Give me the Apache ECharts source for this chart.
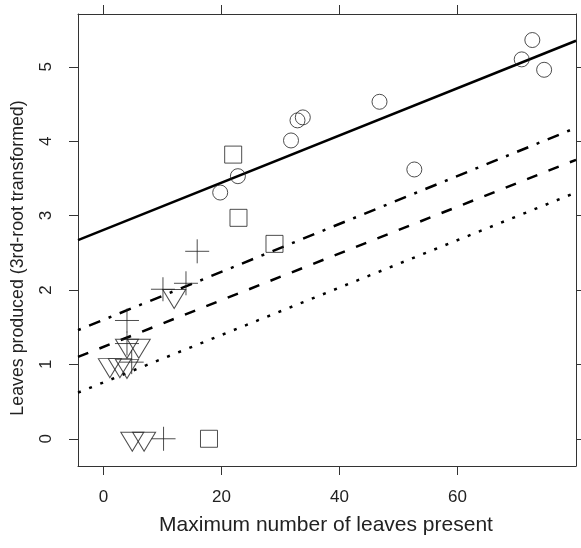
<!DOCTYPE html>
<html>
<head>
<meta charset="utf-8">
<script src="https://cdn.jsdelivr.net/npm/echarts@6/dist/echarts.min.js"></script>
<style>
html,body{margin:0;padding:0;background:#fff;}
#chart{width:581px;height:548px;}
</style>
</head>
<body>
<div id="chart"></div>
<script>
// ---- data ----
var circlesX = [19.8, 22.8, 31.8, 32.9, 33.8, 46.8, 52.7, 70.9, 72.7, 74.7];
var circlesY = [3.31, 3.53, 4.01, 4.28, 4.32, 4.53, 3.62, 5.10, 5.36, 4.96];

var squaresX = [22.0, 22.9, 29.0, 17.9];
var squaresY = [3.82, 2.97, 2.62, 0.0];

var plusX = [4.0, 4.0, 4.8, 10.1, 14.0, 15.9, 10.2];
var plusY = [1.59, 1.28, 1.03, 2.01, 2.09, 2.52, 0.0];

var triX = [12.0, 4.0, 6.0, 1.1, 2.8, 4.0, 4.9, 6.9];
var triY = [1.92, 1.25, 1.25, 0.99, 0.99, 0.98, 0.0, 0.0];

// fitted lines: endpoints [x, y]
var solidLine   = [[-4.3, 2.67], [80.1, 5.35]];
var dashDotLine = [[-4.3, 1.46], [80.1, 4.18]];
var dashedLine  = [[-4.3, 1.10], [80.1, 3.75]];
var dottedLine  = [[-4.3, 0.62], [80.1, 3.31]];

var xTicks = [0, 20, 40, 60];
var yTicks = [0, 1, 2, 3, 4, 5];
var xTitle = 'Maximum number of leaves present';
var yTitle = 'Leaves produced (3rd-root transformed)';

function zip(xs, ys) { return xs.map(function (x, i) { return [x, ys[i]]; }); }

var FONT = 'Liberation Sans';
var TXT = '#222';
var AX = '#333';
var PT = '#222';

var chart = echarts.init(document.getElementById('chart'), null, {renderer: 'canvas'});

function xAx(pos, show) {
  return {
    type: 'value', position: pos, min: -4.3, max: 80.1,
    axisLine: {show: true, onZero: false, lineStyle: {color: AX, width: 1}},
    axisTick: {show: true, inside: false, length: 9, customValues: xTicks, lineStyle: {color: AX}},
    axisLabel: {show: show, customValues: xTicks, margin: 23, fontFamily: FONT, fontSize: 17, color: TXT},
    splitLine: {show: false}
  };
}
function yAx(pos, show) {
  return {
    type: 'value', position: pos, min: -0.366, max: 5.71,
    axisLine: {show: true, onZero: false, lineStyle: {color: AX, width: 1}},
    axisTick: {show: true, inside: false, length: 9, customValues: yTicks, lineStyle: {color: AX}},
    axisLabel: {show: show, customValues: yTicks, rotate: 90, margin: 23, fontFamily: FONT, fontSize: 17, color: TXT},
    splitLine: {show: false}
  };
}

function lineSeries(data, type) {
  return {
    type: 'line', data: data, showSymbol: false, symbol: 'none', silent: true,
    clip: true, z: 3, animation: false,
    lineStyle: {color: '#000', width: 2.5, type: type}
  };
}
function pointSeries(data, symbol, size, offset) {
  return {
    type: 'scatter', data: data, symbol: symbol, symbolSize: size,
    symbolOffset: offset || [0, 0], animation: false, z: 4,
    itemStyle: {color: 'transparent', borderColor: PT, borderWidth: 1}
  };
}

chart.setOption({
  backgroundColor: '#fff',
  animation: false,
  grid: {left: 78, right: 5, top: 14, bottom: 82, containLabel: false},
  xAxis: [xAx('bottom', true), xAx('top', false)],
  yAxis: [yAx('left', true), yAx('right', false)],
  graphic: [
    {type: 'text', x: 326, y: 525, silent: true,
     style: {text: xTitle, fontFamily: FONT, fontSize: 21, fill: TXT, textAlign: 'center', textVerticalAlign: 'middle'}},
    {type: 'text', x: 18, y: 258, rotation: Math.PI / 2, silent: true,
     style: {text: yTitle, fontFamily: FONT, fontSize: 17.8, fill: TXT, textAlign: 'center', textVerticalAlign: 'middle'}}
  ],
  series: [
    lineSeries(solidLine, 'solid'),
    lineSeries(dashDotLine, [3, 9, 12, 9]),
    lineSeries(dashedLine, [11, 12]),
    lineSeries(dottedLine, [3, 9]),
    pointSeries(zip(circlesX, circlesY), 'circle', 15),
    pointSeries(zip(squaresX, squaresY), 'rect', 17),
    pointSeries(zip(plusX, plusY), 'path://M0,10 L20,10 M10,0 L10,20', 24),
    pointSeries(zip(triX, triY), 'path://M0,0 L20,0 L10,17.32 Z', [23, 19], [0, 3])
  ]
});
</script>
</body>
</html>
